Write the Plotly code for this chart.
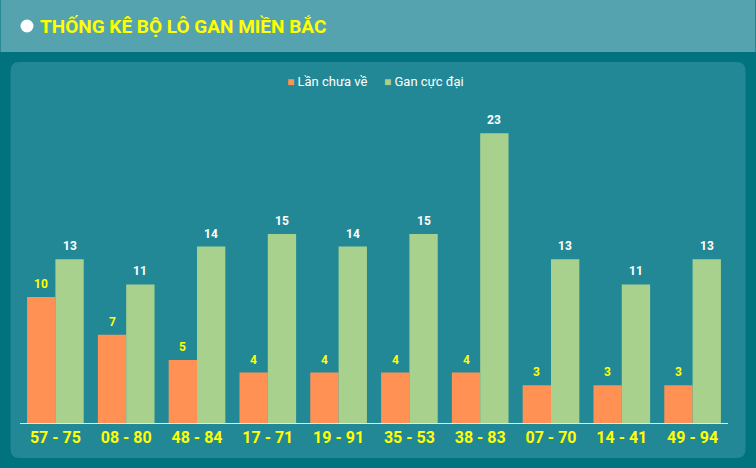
import plotly.graph_objects as go

categories = ["57 - 75", "08 - 80", "48 - 84", "17 - 71", "19 - 91", "35 - 53", "38 - 83", "07 - 70", "14 - 41", "49 - 94"]
lan_chua_ve = [10, 7, 5, 4, 4, 4, 4, 3, 3, 3]
gan_cuc_dai = [13, 11, 14, 15, 14, 15, 23, 13, 11, 13]
series_names = ["Lần chưa về", "Gan cực đại"]
series_colors = ["#ff9155", "#a9d18e"]

W, H = 756, 468
ML, MR, MT, MB = 19.5, 27.5, 108, 45

def px2x(px):
    return (px - ML) / (W - ML - MR)

def px2y(py):
    return (H - MB - py) / (H - MT - MB)

fig = go.Figure()
for name, vals, col in zip(series_names, [lan_chua_ve, gan_cuc_dai], series_colors):
    fig.add_trace(go.Bar(name=name, x=categories, y=vals, marker_color=col,
                         marker_line_width=0, hoverinfo="x+y", showlegend=False))

# value labels above bars
bw = (W - ML - MR) / len(categories) * 0.8 / 2
for c, v in zip(categories, lan_chua_ve):
    fig.add_annotation(x=c, y=v, text=str(v), showarrow=False, xshift=-bw / 2, yshift=4,
                       yanchor="bottom", font=dict(family="Roboto", size=12, color="#ffff00", weight="bold"))
for c, v in zip(categories, gan_cuc_dai):
    fig.add_annotation(x=c, y=v, text=str(v), showarrow=False, xshift=bw / 2, yshift=4,
                       yanchor="bottom", font=dict(family="Roboto", size=12, color="#ffffff", weight="bold"))

# legend (drawn as annotations to match the compact squares)
legend_x = [285, 382]
for lx, name, col in zip(legend_x, series_names, series_colors):
    fig.add_annotation(xref="paper", yref="paper", x=px2x(lx), y=px2y(81), xanchor="left", yanchor="middle",
                       showarrow=False,
                       text=f"<span style='color:{col};font-size:12px'>■</span> {name}",
                       font=dict(family="Roboto", size=13, color="#ffffff"))

# title
fig.add_annotation(xref="paper", yref="paper", x=px2x(38), y=px2y(26),
                   xanchor="left", yanchor="middle", showarrow=False,
                   text="<b>THỐNG KÊ BỘ LÔ GAN MIỀN BẮC</b>",
                   font=dict(family="Roboto", size=19, color="#ffff00"))

shapes = []
# header band
shapes.append(dict(type="rect", xref="paper", yref="paper", x0=px2x(0), x1=px2x(W), y0=px2y(52), y1=px2y(0),
                   fillcolor="#55a3ae", line_width=0, layer="below"))
# title bullet
shapes.append(dict(type="circle", xref="paper", yref="paper", x0=px2x(20), x1=px2x(33), y0=px2y(32.5), y1=px2y(19.5),
                   fillcolor="#ffffff", line_width=0, layer="above"))
# panel rounded rect
x0, x1, y0, y1, r = 10, 746, 62, 458, 9
def P(x, y):
    return f"{px2x(x)},{px2y(y)}"
path = (f"M {P(x0 + r, y0)} L {P(x1 - r, y0)} Q {P(x1, y0)} {P(x1, y0 + r)} "
        f"L {P(x1, y1 - r)} Q {P(x1, y1)} {P(x1 - r, y1)} L {P(x0 + r, y1)} "
        f"Q {P(x0, y1)} {P(x0, y1 - r)} L {P(x0, y0 + r)} Q {P(x0, y0)} {P(x0 + r, y0)} Z")
shapes.append(dict(type="path", xref="paper", yref="paper", path=path, fillcolor="#238896",
                   line_width=0, layer="below"))

fig.update_layout(
    width=W, height=H,
    margin=dict(l=ML, r=MR, t=MT, b=MB, pad=0),
    paper_bgcolor="#00737f", plot_bgcolor="rgba(0,0,0,0)",
    barmode="group", bargap=0.2, bargroupgap=0,
    shapes=shapes,
    showlegend=False,
    font=dict(family="Roboto"),
    xaxis=dict(showgrid=False, showline=True, linecolor="#dfe9ec", linewidth=1,
               tickfont=dict(family="Roboto", size=16, color="#ffff00", weight="bold"),
               ticks="", ticklen=0, fixedrange=True),
    yaxis=dict(range=[0, 25], showgrid=False, zeroline=False, showticklabels=False, fixedrange=True),
)

fig.write_html("out.html")
